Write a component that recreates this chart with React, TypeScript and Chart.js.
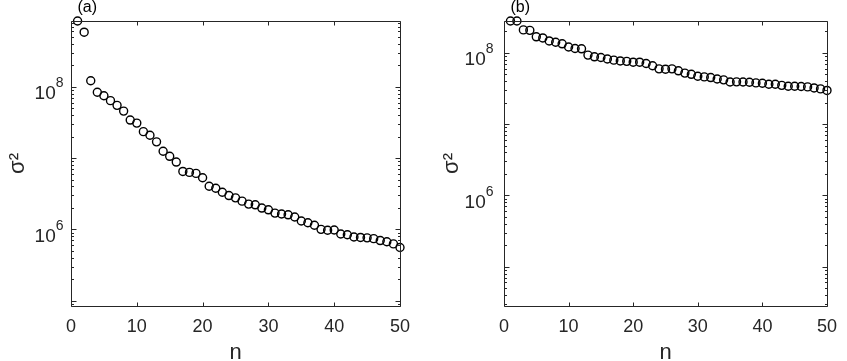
import React, { useEffect, useRef } from "react";
import { Chart, registerables } from "chart.js";

Chart.register(...registerables);

// ---- data ----
const nValues = [
  1, 2, 3, 4, 5, 6, 7, 8, 9, 10, 11, 12, 13, 14, 15, 16, 17, 18, 19, 20,
  21, 22, 23, 24, 25, 26, 27, 28, 29, 30, 31, 32, 33, 34, 35, 36, 37, 38, 39, 40,
  41, 42, 43, 44, 45, 46, 47, 48, 49, 50,
];

const sigmaA = [
  8.4e8, 5.85e8, 1.22e8, 8.4e7, 7.5e7, 6.4e7, 5.5e7, 4.57e7, 3.42e7, 3.1e7,
  2.35e7, 2.09e7, 1.69e7, 1.25e7, 1.06e7, 8.8e6, 6.5e6, 6.3e6, 6.1e6, 5.3e6,
  4.03e6, 3.78e6, 3.32e6, 2.98e6, 2.77e6, 2.49e6, 2.26e6, 2.21e6, 1.99e6, 1.88e6,
  1.69e6, 1.64e6, 1.6e6, 1.49e6, 1.31e6, 1.24e6, 1.14e6, 1.0e6, 9.7e5, 9.8e5,
  8.6e5, 8.4e5, 7.8e5, 7.7e5, 7.6e5, 7.4e5, 6.96e5, 6.7e5, 6.25e5, 5.56e5,
];

const sigmaB = [
  2.8e8, 2.8e8, 2.1e8, 2.07e8, 1.68e8, 1.62e8, 1.47e8, 1.41e8, 1.34e8, 1.21e8,
  1.15e8, 1.14e8, 9.3e7, 8.8e7, 8.6e7, 8.2e7, 7.9e7, 7.7e7, 7.6e7, 7.4e7,
  7.4e7, 7.1e7, 6.6e7, 5.96e7, 5.9e7, 5.96e7, 5.6e7, 5.2e7, 5.0e7, 4.7e7,
  4.6e7, 4.5e7, 4.3e7, 4.18e7, 3.9e7, 3.92e7, 3.9e7, 3.87e7, 3.79e7, 3.75e7,
  3.63e7, 3.63e7, 3.5e7, 3.4e7, 3.4e7, 3.37e7, 3.33e7, 3.22e7, 3.12e7, 2.97e7,
];

const xTickValues = [0, 10, 20, 30, 40, 50];
const xTickLabels = ["0", "10", "20", "30", "40", "50"];
const yTickValues = [1e6, 1e8];
const yTickBase = ["10", "10"];
const yTickExp = ["6", "8"];
const panelLabels = ["(a)", "(b)"];
const xTitle = "n";
const yTitle = "\u03c3\u00b2";

const FONT = "'Liberation Sans', Arial, Helvetica, sans-serif";
const AXIS = "#262626";

const frameTicks = {
  id: "frameTicks",
  afterDraw(chart: any, _args: any, opts: any) {
    const { ctx, chartArea, scales } = chart;
    const { left, right, top, bottom } = chartArea;
    const x = scales.x;
    const y = scales.y;
    ctx.save();
    ctx.strokeStyle = AXIS;
    ctx.lineWidth = 1;
    const L = Math.round(left) + 0.5;
    const R = Math.round(right) + 0.5;
    const T = Math.round(top) + 0.5;
    const B = Math.round(bottom) + 0.5;
    ctx.beginPath();
    ctx.rect(L, T, R - L, B - T);
    ctx.stroke();
    ctx.beginPath();
    xTickValues.forEach((v) => {
      const px = Math.round(x.getPixelForValue(v)) + 0.5;
      ctx.moveTo(px, B);
      ctx.lineTo(px, B - 4);
      ctx.moveTo(px, T);
      ctx.lineTo(px, T + 4);
    });
    const e0 = Math.floor(Math.log10(y.min));
    const e1 = Math.ceil(Math.log10(y.max));
    for (let e = e0; e <= e1; e++) {
      for (let m = 1; m <= 9; m++) {
        const v = m * Math.pow(10, e);
        if (v < y.min || v > y.max) continue;
        const len = m === 1 ? 5 : 2.5;
        const py = Math.round(y.getPixelForValue(v)) + 0.5;
        ctx.moveTo(L, py);
        ctx.lineTo(L + len, py);
        ctx.moveTo(R, py);
        ctx.lineTo(R - len, py);
      }
    }
    ctx.stroke();

    // y tick labels: 10 with superscript exponent
    ctx.fillStyle = AXIS;
    ctx.textBaseline = "alphabetic";
    ctx.textAlign = "left";
    yTickValues.forEach((v, i) => {
      const py = y.getPixelForValue(v);
      ctx.font = `14px ${FONT}`;
      const ew = ctx.measureText(yTickExp[i]).width;
      ctx.font = `19px ${FONT}`;
      const bw = ctx.measureText(yTickBase[i]).width;
      const endX = L - opts.labelGap;
      const startX = endX - ew - bw;
      ctx.fillText(yTickBase[i], startX, py + 12.5);
      ctx.font = `14px ${FONT}`;
      ctx.fillText(yTickExp[i], startX + bw, py + 0.5);
    });

    ctx.fillStyle = "#000";
    ctx.font = `16px ${FONT}`;
    ctx.textBaseline = "middle";
    ctx.textAlign = "left";
    ctx.fillText(opts.label, L + 6, 8);
    ctx.restore();
  },
};

type PanelProps = {
  offset: number;
  width: number;
  values: number[];
  yMin: number;
  yMax: number;
  yAxisWidth: number;
  padRight: number;
  label: string;
  titlePad: number;
  labelGap: number;
};

function Panel(p: PanelProps) {
  const ref = useRef<HTMLCanvasElement | null>(null);
  useEffect(() => {
    if (!ref.current) return;
    const chart = new Chart(ref.current, {
      type: "scatter",
      data: {
        datasets: [
          {
            data: nValues.map((n, i) => ({ x: n, y: p.values[i] })),
            pointStyle: "circle",
            pointRadius: 4,
            pointBorderWidth: 1.4,
            pointBorderColor: "#000",
            pointBackgroundColor: "rgba(0,0,0,0)",
            showLine: false,
            clip: false as any,
          },
        ],
      },
      options: {
        responsive: false,
        animation: false,
        devicePixelRatio: 1,
        layout: { padding: { left: 0, right: p.padRight, top: 21, bottom: 0 } },
        plugins: {
          legend: { display: false },
          tooltip: { enabled: false },
          frameTicks: { label: p.label, labelGap: p.labelGap },
        } as any,
        scales: {
          x: {
            type: "linear",
            min: 0,
            max: 50,
            afterBuildTicks: (s: any) => {
              s.ticks = xTickValues.map((v) => ({ value: v }));
            },
            afterFit: (s: any) => {
              s.height = 55;
            },
            ticks: {
              autoSkip: false,
              maxRotation: 0,
              padding: 10,
              color: AXIS,
              font: { size: 18, family: FONT },
              callback: (v: any) => {
                const i = xTickValues.indexOf(Number(v));
                return i >= 0 ? xTickLabels[i] : "";
              },
            },
            grid: { display: false, drawTicks: false },
            border: { display: false },
            title: {
              display: true,
              text: xTitle,
              color: AXIS,
              font: { size: 22, family: FONT },
              padding: { top: 0, bottom: -5 },
            },
          },
          y: {
            type: "logarithmic",
            min: p.yMin,
            max: p.yMax,
            afterBuildTicks: (s: any) => {
              s.ticks = yTickValues.map((v) => ({ value: v }));
            },
            afterFit: (s: any) => {
              s.width = p.yAxisWidth;
            },
            ticks: { display: false },
            grid: { display: false, drawTicks: false },
            border: { display: false },
            title: {
              display: true,
              text: yTitle,
              color: AXIS,
              font: { size: 22, family: FONT },
              padding: { top: p.titlePad, bottom: 0 },
            },
          },
        },
      },
      plugins: [frameTicks],
    } as any);
    return () => chart.destroy();
  }, []);
  return (
    <canvas
      ref={ref}
      width={p.width}
      height={361}
      style={{ position: "absolute", left: p.offset, top: 0, width: p.width, height: 361 }}
    />
  );
}

export default function App() {
  return (
    <div style={{ position: "absolute", left: 0, top: 0, width: 847, height: 361, background: "#fff" }}>
      <Panel
        offset={0}
        width={420}
        values={sigmaA}
        yMin={8.4e4}
        yMax={8.4e8}
        yAxisWidth={71}
        padRight={20}
        label={panelLabels[0]}
        titlePad={5}
        labelGap={8}
      />
      <Panel
        offset={420}
        width={427}
        values={sigmaB}
        yMin={2.8e4}
        yMax={2.8e8}
        yAxisWidth={84}
        padRight={13}
        label={panelLabels[1]}
        titlePad={19}
        labelGap={11}
      />
    </div>
  );
}
